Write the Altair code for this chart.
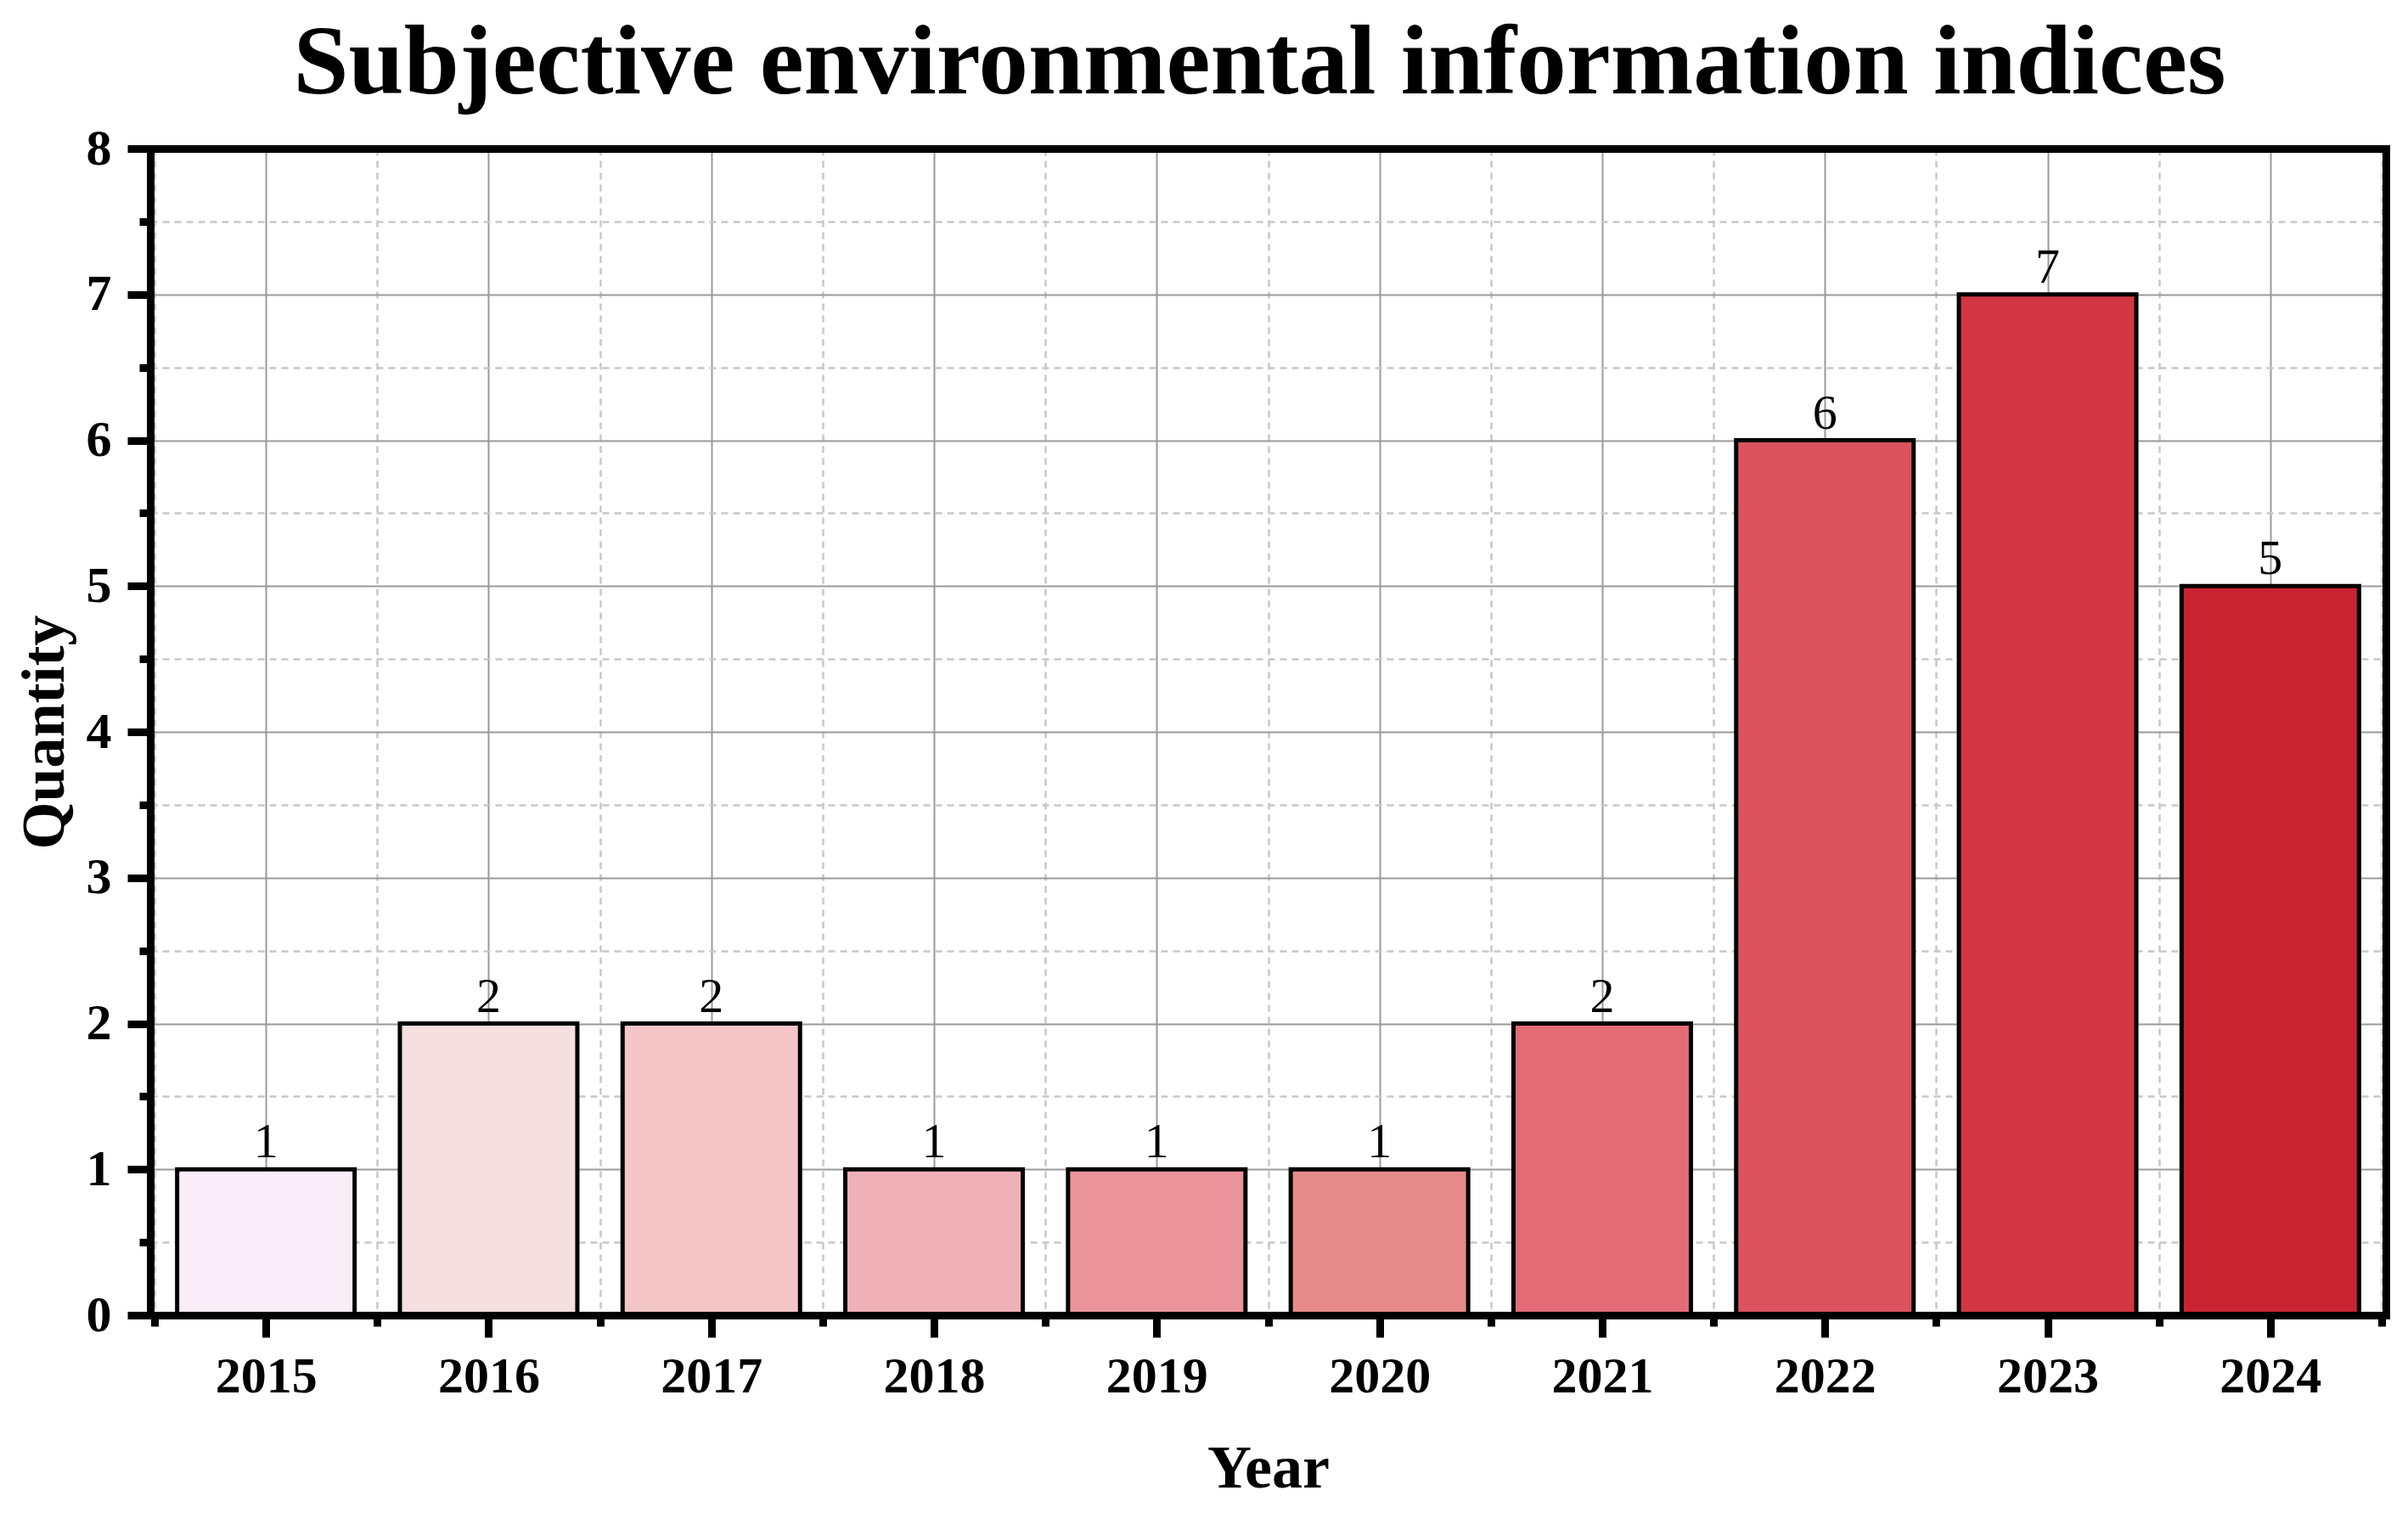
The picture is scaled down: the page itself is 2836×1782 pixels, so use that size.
import altair as alt
import pandas as pd

# ---- data ----
years = [2015, 2016, 2017, 2018, 2019, 2020, 2021, 2022, 2023, 2024]
counts = [1, 2, 2, 1, 1, 1, 2, 6, 7, 5]
bar_colors = ["#F9EEF7", "#F5DFDF", "#F3C5C7", "#F0B0B7", "#EB949C",
              "#E68A89", "#E36C76", "#DB535E", "#D33643", "#C92331"]
y_major = [0, 1, 2, 3, 4, 5, 6, 7, 8]
y_minor = [0.5, 1.5, 2.5, 3.5, 4.5, 5.5, 6.5, 7.5]
x_minor = [2014.5, 2015.5, 2016.5, 2017.5, 2018.5, 2019.5,
           2020.5, 2021.5, 2022.5, 2023.5, 2024.5]
x_domain = [2014.5, 2024.5]
y_domain = [0, 8]

df = pd.DataFrame({"year": years, "count": counts, "color": bar_colors})

FONT = "Liberation Serif"
xscale = alt.Scale(domain=x_domain, nice=False, zero=False)
yscale = alt.Scale(domain=y_domain, nice=False)

base = alt.Chart(df)

# major axes (solid grid, labels, long ticks)
x_major_axis = alt.Axis(orient="bottom", values=years, format="d", domain=False,
                        ticks=True, tickSize=26, tickWidth=9, tickColor="black",
                        labels=True, labelFont=FONT, labelFontWeight="bold",
                        labelFontSize=60, labelColor="black", labelPadding=17,
                        grid=True, gridColor="#9a9a9a", gridWidth=2,
                        title="Year", titleFont=FONT, titleFontWeight="bold",
                        titleFontSize=72, titleColor="black", titlePadding=43,
                        zindex=0)
y_major_axis = alt.Axis(orient="left", values=y_major, format="d", domain=False,
                        ticks=True, tickSize=27, tickWidth=9, tickColor="black",
                        labels=True, labelFont=FONT, labelFontWeight="bold",
                        labelFontSize=60, labelColor="black", labelPadding=19,
                        grid=True, gridColor="#9a9a9a", gridWidth=2,
                        title="Quantity", titleFont=FONT, titleFontWeight="bold",
                        titleFontSize=72, titleColor="black", titlePadding=12,
                        zindex=0)
# minor axes (dashed grid, short ticks)
x_minor_axis = alt.Axis(orient="bottom", values=x_minor, domain=False,
                        ticks=True, tickSize=13, tickWidth=9, tickColor="black",
                        labels=False, grid=True, gridColor="#c8c8c8",
                        gridWidth=2.5, gridDash=[8, 6], title=None, zindex=0)
y_minor_axis = alt.Axis(orient="left", values=y_minor, domain=False,
                        ticks=True, tickSize=13, tickWidth=9, tickColor="black",
                        labels=False, grid=True, gridColor="#c8c8c8",
                        gridWidth=2.5, gridDash=[8, 6], title=None, zindex=0)


def frame_axis(orient):
    return alt.Axis(orient=orient, domain=True, domainColor="black",
                    domainWidth=9, domainCap="square", ticks=False,
                    labels=False, grid=False, title=None, zindex=1)


bars = base.mark_bar(size=209, stroke="black", strokeWidth=5).encode(
    x=alt.X("year:Q", scale=xscale, axis=x_major_axis),
    y=alt.Y("count:Q", scale=yscale, axis=y_major_axis),
    color=alt.Color("color:N", scale=None),
)

labels = base.mark_text(font=FONT, fontSize=58, color="black",
                        baseline="alphabetic", dy=-14).encode(
    x=alt.X("year:Q", scale=xscale, axis=x_minor_axis),
    y=alt.Y("count:Q", scale=yscale, axis=y_minor_axis),
    text=alt.Text("count:Q"),
)

frame_a = base.mark_point(opacity=0).encode(
    x=alt.X("year:Q", scale=xscale, axis=frame_axis("bottom")),
    y=alt.Y("count:Q", scale=yscale, axis=frame_axis("left")),
)
frame_b = base.mark_point(opacity=0).encode(
    x=alt.X("year:Q", scale=xscale, axis=frame_axis("top")),
    y=alt.Y("count:Q", scale=yscale, axis=frame_axis("right")),
)

chart = alt.layer(bars, labels, frame_a, frame_b).resolve_axis(
    x="independent", y="independent"
).properties(
    width=2633,
    height=1374,
    padding={"left": 169, "top": 167, "right": 18, "bottom": 225},
    autosize=alt.AutoSizeParams(type="none"),
    title=alt.TitleParams(
        text="Subjective environmental information indices",
        font=FONT, fontSize=117, fontWeight="bold", color="black",
        anchor="middle", frame="group", offset=10, dx=-10,
    ),
).configure_view(strokeWidth=0)

chart.save("out.html", embed_options={"renderer": "svg", "actions": False})
